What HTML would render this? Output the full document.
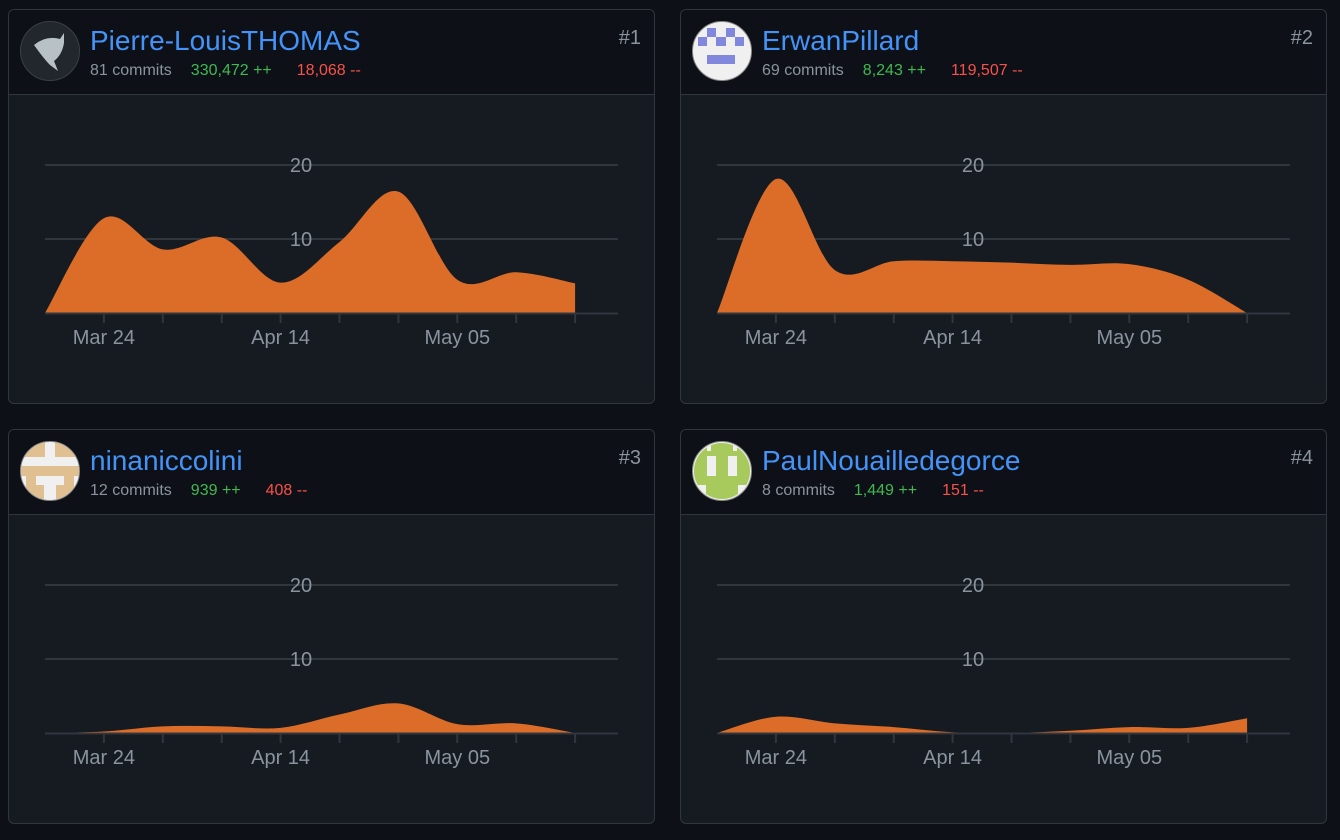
<!DOCTYPE html>
<html><head><meta charset="utf-8">
<style>
html,body{margin:0;padding:0;background:#0d1117;width:1340px;height:840px;overflow:hidden;font-family:"Liberation Sans",sans-serif}
.card{position:absolute;width:647px;height:395px;border:1px solid #30363d;border-radius:6px;background:#161b22;overflow:hidden;box-sizing:border-box}
.head{position:absolute;left:0;top:0;width:100%;height:85px;background:#0d1117;border-bottom:1px solid #30363d;box-sizing:border-box}
.av{position:absolute;left:11px;top:11px;width:60px;height:60px}
.name{position:absolute;left:81px;top:15px;font-size:28px;color:#4493f8;white-space:nowrap}
.stats{position:absolute;left:81px;top:52px;font-size:16px;color:#8b949e;white-space:nowrap}
.stats .a{color:#3fb950;margin-left:19px}
.stats .d{color:#f85149;margin-left:25px}
.rank{position:absolute;right:13px;top:17px;font-size:20px;color:#8b949e}
svg.chart{position:absolute;left:0;top:84px}
</style></head><body>

<div class="card" id="c0" style="left:8px;top:9px">
 <div class="head">
  <svg class="av" viewBox="0 0 60 60"><circle cx="30" cy="30" r="29.5" fill="#22272e" stroke="#3a3f46"/><path d="M14 24 Q26 14 40 18 L44 12 L44 22 Q42 34 34 40 L38 50 L30 44 Q24 38 14 24Z" fill="#b8c2c6"/></svg>
  <div class="name">Pierre-LouisTHOMAS</div>
  <div class="stats">81 commits<span class="a">330,472 ++</span><span class="d">18,068 --</span></div>
  <div class="rank">#1</div>
 </div>
</div>
<div class="card" id="c1" style="left:680px;top:9px">
 <div class="head">
  <svg class="av" viewBox="0 0 60 60"><circle cx="30" cy="30" r="29.5" fill="#f0f0f0" stroke="#888"/><g fill="#8087dc"><rect x="15" y="7" width="9" height="9"/><rect x="34" y="7" width="9" height="9"/><rect x="6" y="16" width="9" height="9"/><rect x="24" y="16" width="10" height="9"/><rect x="43" y="16" width="9" height="9"/><rect x="15" y="34" width="28" height="9"/></g></svg>
  <div class="name">ErwanPillard</div>
  <div class="stats">69 commits<span class="a">8,243 ++</span><span class="d">119,507 --</span></div>
  <div class="rank">#2</div>
 </div>
</div>
<div class="card" id="c2" style="left:8px;top:429px">
 <div class="head">
  <svg class="av" viewBox="0 0 60 60"><clipPath id="cp3"><circle cx="30" cy="30" r="29"/></clipPath><circle cx="30" cy="30" r="29.5" fill="#f0f0f0" stroke="#888"/><g clip-path="url(#cp3)" fill="#e0bf90"><rect x="0" y="0" width="25" height="16"/><rect x="35" y="0" width="25" height="16"/><rect x="0" y="25" width="60" height="10"/><rect x="6" y="35" width="10" height="25"/><rect x="44" y="35" width="10" height="25"/><rect x="16" y="44" width="8" height="16"/><rect x="36" y="44" width="8" height="16"/></g></svg>
  <div class="name">ninaniccolini</div>
  <div class="stats">12 commits<span class="a">939 ++</span><span class="d">408 --</span></div>
  <div class="rank">#3</div>
 </div>
</div>
<div class="card" id="c3" style="left:680px;top:429px">
 <div class="head">
  <svg class="av" viewBox="0 0 60 60"><clipPath id="cp4"><circle cx="30" cy="30" r="28"/></clipPath><circle cx="30" cy="30" r="29.5" fill="#f0f0f0" stroke="#888"/><g clip-path="url(#cp4)"><rect x="0" y="0" width="60" height="60" fill="#a8c95c"/><rect x="15" y="0" width="4" height="10" fill="#f0f0f0"/><rect x="41" y="0" width="4" height="10" fill="#f0f0f0"/><rect x="15" y="15" width="9" height="20" fill="#f0f0f0"/><rect x="36" y="15" width="9" height="20" fill="#f0f0f0"/><rect x="0" y="44" width="14" height="16" fill="#f0f0f0"/><rect x="46" y="44" width="14" height="16" fill="#f0f0f0"/></g></svg>
  <div class="name">PaulNouailledegorce</div>
  <div class="stats">8 commits<span class="a">1,449 ++</span><span class="d">151 --</span></div>
  <div class="rank">#4</div>
 </div>
</div>

<script>
const weeks = ["Mar 17","Mar 24","Mar 31","Apr 07","Apr 14","Apr 21","Apr 28","May 05","May 12","May 19"];
const tickLabels = ["Mar 24","Apr 14","May 05"];
const yTicks = [10,20];
const series1 = [0,12.8,8.6,10.2,4.1,9.6,16.4,4.5,5.5,4];
const series2 = [0,18.1,5.8,7,7,6.8,6.5,6.6,4.5,0];
const series3 = [0,0.2,0.9,0.9,0.7,2.5,4,1.2,1.3,0];
const series4 = [0,2.2,1.3,0.8,0.1,0,0.3,0.8,0.7,2];
const allSeries = [series1,series2,series3,series4];

const NS="http://www.w3.org/2000/svg";
const W=647,H=310,x0=36,step=58.9,xEnd=609,baseY=219,pxPerUnit=7.4;
const xs=i=>x0+i*step;
const ys=v=>baseY-v*pxPerUnit;
function mk(tag,attrs){const e=document.createElementNS(NS,tag);for(const k in attrs)e.setAttribute(k,attrs[k]);return e;}
function crPath(p){
  let d="M"+p[0][0]+","+p[0][1];
  const n=p.length;
  for(let i=0;i<n-1;i++){
    const a=p[Math.max(0,i-1)],b=p[i],c=p[i+1],e=p[Math.min(n-1,i+2)];
    const c1=[b[0]+(c[0]-a[0])/6,b[1]+(c[1]-a[1])/6];
    const c2=[c[0]-(e[0]-b[0])/6,c[1]-(e[1]-b[1])/6];
    d+=" C"+c1[0]+","+c1[1]+" "+c2[0]+","+c2[1]+" "+c[0]+","+c[1];
  }
  return d;
}
allSeries.forEach((vals,ci)=>{
  const svg=mk("svg",{class:"chart",width:W,height:H});
  
  
  const cp=mk("clipPath",{id:"clip"+ci});
  cp.appendChild(mk("rect",{x:0,y:0,width:W,height:baseY}));
  svg.appendChild(cp);
  yTicks.forEach(v=>{
    const g=mk("line",{x1:x0,x2:xEnd,y1:ys(v),y2:ys(v),stroke:"#30363d","stroke-width":2});
    
    
    svg.appendChild(g);
  });
  const pts=vals.map((v,i)=>[xs(i),ys(v)]);
  const d=crPath(pts)+" L"+xs(vals.length-1)+","+(baseY+5)+" L"+x0+","+(baseY+5)+"Z";
  const area=mk("path",{d:d,fill:"#db6d28","clip-path":"url(#clip"+ci+")"});
  
  
  svg.appendChild(area);
  yTicks.forEach(v=>{
    const t=mk("text",{x:292,y:ys(v)+7,"text-anchor":"middle","font-size":20,fill:"#8b949e","font-family":"Liberation Sans, sans-serif"});
    t.textContent=v;
    
    
    svg.appendChild(t);
  });
  const ax=mk("line",{x1:x0,x2:xEnd,y1:baseY+0.5,y2:baseY+0.5,stroke:"#30363d","stroke-width":2});
  
  
  svg.appendChild(ax);
  weeks.forEach((w,i)=>{
    if(i===0)return;
    const tk=mk("line",{x1:xs(i),x2:xs(i),y1:baseY,y2:baseY+10,stroke:"#30363d","stroke-width":2});
    
    
    svg.appendChild(tk);
    if(tickLabels.indexOf(w)>=0){
      const t=mk("text",{x:xs(i),y:baseY+31,"text-anchor":"middle","font-size":20,fill:"#8b949e","font-family":"Liberation Sans, sans-serif"});
      t.textContent=w;
      
      
      svg.appendChild(t);
    }
  });
  document.getElementById("c"+ci).appendChild(svg);
});
</script>
</body></html>
